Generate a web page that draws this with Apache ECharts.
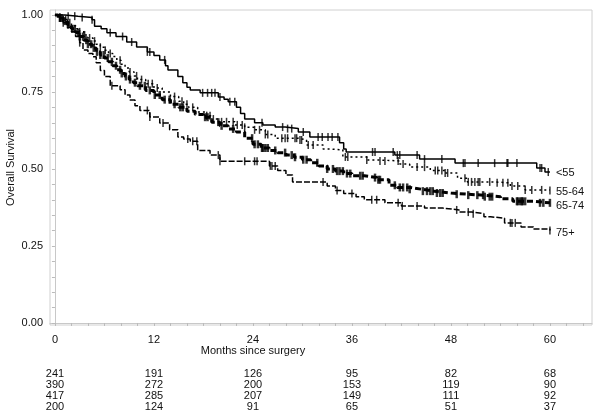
<!DOCTYPE html>
<html><head><meta charset="utf-8">
<script src="https://cdn.jsdelivr.net/npm/echarts@6/dist/echarts.min.js"></script>
<style>html,body{margin:0;padding:0;background:#fff}#c{width:602px;height:420px}</style>
</head><body><div id="c"></div>
<script>
const groups = ['<55', '55-64', '65-74', '75+'];
const xTicks = [0, 12, 24, 36, 48, 60];
const yTicks = [0, 0.25, 0.5, 0.75, 1];
const atRisk = {
  '<55':   [241, 191, 126, 95, 82, 68],
  '55-64': [390, 272, 200, 153, 119, 90],
  '65-74': [417, 285, 207, 149, 111, 92],
  '75+':   [200, 124, 91, 65, 51, 37]
};
const curveLt55 = [[0,1],[1.2,0.996],[2.8,0.992],[4.5,0.984],[4.8,0.963],[5.6,0.955],[6.3,0.942],[7.4,0.93],[8.7,0.912],[9.9,0.896],[11.2,0.88],[12.0,0.868],[12.7,0.854],[13.4,0.835],[13.7,0.821],[14.9,0.80],[15.5,0.78],[16.0,0.765],[16.4,0.756],[17.6,0.747],[19.8,0.734],[20.5,0.726],[21.0,0.718],[22.0,0.70],[22.5,0.68],[23.0,0.662],[24.2,0.65],[25.2,0.643],[26.7,0.636],[27.9,0.631],[29.5,0.62],[30.9,0.604],[34.5,0.585],[35.0,0.565],[35.3,0.555],[41.2,0.545],[44.2,0.532],[48.5,0.519],[58.4,0.503],[59.4,0.49],[60,0.49]];
const curve5564 = [[0,1],[0.5,0.993],[1,0.985],[1.5,0.975],[2,0.965],[2.6,0.955],[3,0.945],[3.5,0.935],[4,0.925],[4.6,0.915],[5,0.905],[5.5,0.895],[6,0.885],[6.5,0.875],[7,0.865],[7.5,0.853],[8,0.84],[8.5,0.828],[9,0.815],[9.6,0.802],[10,0.79],[11,0.777],[12,0.763],[13,0.75],[14,0.735],[15,0.72],[15.6,0.71],[16.2,0.70],[17.3,0.685],[18.2,0.673],[19,0.662],[19.8,0.653],[21.8,0.643],[23,0.635],[24.2,0.627],[25.5,0.612],[26.7,0.60],[29.5,0.594],[30.5,0.578],[32.5,0.565],[33.3,0.562],[34.9,0.539],[37.8,0.529],[39.4,0.526],[41.8,0.516],[43,0.506],[45.5,0.495],[47.3,0.487],[48.8,0.47],[50,0.458],[53,0.455],[55.2,0.445],[57,0.432],[60,0.43]];
const curve6574 = [[0,1],[0.4,0.99],[1,0.98],[1.5,0.968],[2,0.955],[2.5,0.943],[3,0.93],[3.5,0.918],[4,0.905],[4.5,0.893],[5,0.88],[5.5,0.87],[6,0.86],[6.5,0.848],[7,0.835],[7.5,0.822],[8,0.81],[8.5,0.80],[9,0.79],[9.5,0.78],[10,0.77],[11,0.755],[12,0.74],[13,0.725],[14,0.71],[15,0.70],[16,0.687],[17,0.677],[18,0.668],[19,0.652],[20,0.64],[21,0.63],[22,0.62],[23,0.60],[24,0.58],[25,0.568],[26,0.56],[27,0.553],[28,0.545],[29,0.538],[30,0.53],[31,0.52],[32,0.51],[33,0.50],[34,0.493],[35,0.485],[36,0.478],[37.5,0.472],[39,0.465],[40.5,0.447],[41.5,0.44],[43,0.434],[44.5,0.428],[46,0.422],[48,0.418],[50,0.415],[52,0.41],[54,0.403],[55.5,0.395],[58,0.39],[60,0.39]];
const curve75 = [[0,1],[0.5,0.99],[1,0.975],[1.5,0.96],[2,0.945],[2.5,0.93],[3,0.91],[3.4,0.886],[4,0.875],[4.6,0.864],[5,0.845],[5.5,0.82],[6,0.80],[6.7,0.77],[7.9,0.757],[8.5,0.74],[9.1,0.724],[9.7,0.705],[10.3,0.69],[11.5,0.669],[12.7,0.649],[13.9,0.627],[14.9,0.604],[15.6,0.597],[16.4,0.59],[17.3,0.56],[18.8,0.545],[20,0.525],[26,0.51],[27,0.495],[28,0.48],[28.8,0.458],[33,0.445],[34,0.43],[35,0.42],[36.5,0.41],[37.5,0.40],[40,0.39],[42,0.38],[44.8,0.373],[47,0.367],[49,0.36],[50.5,0.355],[52,0.345],[52.8,0.34],[54.5,0.325],[56.5,0.312],[58,0.305],[60,0.30]];
const censorLt55 = [1.6,2.4,3.3,4.5,6.7,8.2,9.3,11.2,11.5,13.3,17.9,18.5,19.0,19.4,20.0,21.2,21.8,25.1,27.6,28.2,28.7,30.1,31.9,32.4,33.1,33.6,34.3,38.5,38.8,41.0,41.5,41.8,43.9,44.8,46.9,49.5,49.7,51.3,53.3,54.8,54.9,56.0,58.8,59.0,59.8];
const censor5564 = [0.6,1.0,1.3,1.8,3.0,3.6,4.2,4.8,5.5,6.1,6.7,7.9,9.1,9.9,10.5,11.3,11.8,12.4,14.5,15.4,16.0,16.7,18.4,18.8,19.2,20.2,20.8,21.6,22.1,22.7,23.0,24.2,24.8,25.5,25.8,27.5,27.9,28.2,29.1,29.3,29.7,29.9,30.7,31.3,35.2,35.5,37.8,39.4,40.0,41.6,42.2,43.9,44.8,46.1,46.4,46.9,47.3,47.6,49.7,50.1,50.5,50.9,51.3,51.5,52.7,53.6,54.3,54.9,55.4,56.1,57.0,57.8,59.0,60];
const censor6574 = [0.6,0.8,1.2,1.6,2.1,2.4,2.8,3.0,3.4,3.8,4.0,4.4,4.7,5.1,5.5,5.9,6.4,6.9,7.4,7.9,8.1,8.6,9.1,9.7,10.3,10.9,11.5,12.1,12.7,13.3,13.9,14.5,15.2,15.5,18.2,18.5,19.8,20.2,21.6,23.9,24.2,24.6,25.1,25.2,25.5,25.8,26.7,27.9,28.7,29.1,30.1,30.5,31.8,33.0,33.7,34.2,34.5,34.9,35.4,35.8,37.0,37.3,38.8,39.2,39.4,41.2,41.8,42.2,42.7,43.0,44.6,45.1,45.5,45.8,46.3,46.7,47.0,48.7,50.1,51.2,51.9,52.1,52.7,53.0,56.0,56.1,56.4,56.6,56.7,57.0,58.8,59.2,60];
const censor75 = [0.6,1.0,3.0,6.9,11.2,11.5,13.1,16.1,16.7,17.2,19.8,20.0,23.0,24.2,24.5,26.1,26.3,26.7,32.5,34.2,36.0,38.4,39.0,41.6,42.1,43.9,48.7,50.1,50.7,55.2,55.4,55.8,60];

const curves = [curveLt55, curve5564, curve6574, curve75];
const censors = [censorLt55, censor5564, censor6574, censor75];
const styles = [
  {width: 1.5, type: 'solid'},
  {width: 1.5, type: [2, 3]},
  {width: 3, type: [6, 3]},
  {width: 1.5, type: [6, 2]}
];
const markW = [1.5, 1.5, 2.5, 1.5];
const labelOffset = [[0,1],[0,1],[0,3],[0,2]];

function survAt(curve, t) {
  let s = curve[0][1];
  for (const p of curve) { if (p[0] <= t) s = p[1]; else break; }
  return s;
}

const FONT = 'Liberation Sans, Arial, Helvetica, sans-serif';
const series = [];
groups.forEach((g, i) => {
  series.push({
    name: g, type: 'line', step: 'end', data: curves[i], showSymbol: false,
    lineStyle: {color: '#000', width: styles[i].width, type: styles[i].type},
    endLabel: {show: true, formatter: g, color: '#111', fontSize: 11, fontFamily: FONT, distance: 6, offset: labelOffset[i]},
    z: 3, silent: true
  });
});
groups.forEach((g, i) => {
  series.push({
    name: g + ' censored', type: 'scatter', symbol: 'rect', symbolSize: [markW[i], 8],
    itemStyle: {color: '#000'}, z: 4, silent: true,
    data: censors[i].map(t => [t, survAt(curves[i], t)])
  });
});

const minorX = []; for (let m = 0; m <= 64; m += 2) minorX.push(m);
const minorY = []; for (let k = 0; k <= 20; k++) minorY.push(+(k * 0.05).toFixed(2));

const chart = echarts.init(document.getElementById('c'), null, {renderer: 'canvas'});
chart.setOption({
  animation: false,
  backgroundColor: '#fff',
  textStyle: {fontFamily: FONT},
  grid: {left: 50, right: 10, top: 10, bottom: 95, show: true, borderColor: '#d0d0d0', borderWidth: 1,
         containLabel: false, outerBoundsMode: 'none'},
  xAxis: [{
    type: 'value', min: -0.6, max: 65.1,
    splitLine: {show: false},
    axisLine: {show: true, lineStyle: {color: '#c8c8c8'}},
    axisTick: {show: true, customValues: minorX, length: 3, lineStyle: {color: '#bbb'}},
    axisLabel: {customValues: xTicks, color: '#111', fontSize: 11, fontFamily: FONT, margin: 9, formatter: v => String(v)},
    name: 'Months since surgery', nameLocation: 'middle', nameGap: 20, nameMoveOverlap: false,
    nameTextStyle: {color: '#111', fontSize: 11, fontFamily: FONT, padding: [0, 136, 0, 0]}
  }, {
    type: 'value', min: -0.6, max: 65.1, position: 'bottom',
    splitLine: {show: false}, axisLine: {show: false}, axisTick: {show: false},
    axisLabel: {
      customValues: xTicks, color: '#111', fontSize: 11, fontFamily: FONT, margin: 43, lineHeight: 11,
      formatter: v => { const k = xTicks.indexOf(Math.round(v)); return groups.map(g => atRisk[g][k]).join('\n'); }
    }
  }],
  yAxis: {
    type: 'value', min: -0.0065, max: 1.016,
    splitLine: {show: false},
    axisLine: {show: true, lineStyle: {color: '#c8c8c8'}},
    axisTick: {show: true, customValues: minorY, length: 3, lineStyle: {color: '#bbb'}},
    axisLabel: {customValues: yTicks, color: '#111', fontSize: 11, fontFamily: FONT, margin: 7, formatter: v => v.toFixed(2)},
    name: 'Overall Survival', nameLocation: 'middle', nameGap: 34, nameMoveOverlap: false,
    nameTextStyle: {color: '#111', fontSize: 11, fontFamily: FONT}
  },
  series: series
});
</script>
</body></html>
